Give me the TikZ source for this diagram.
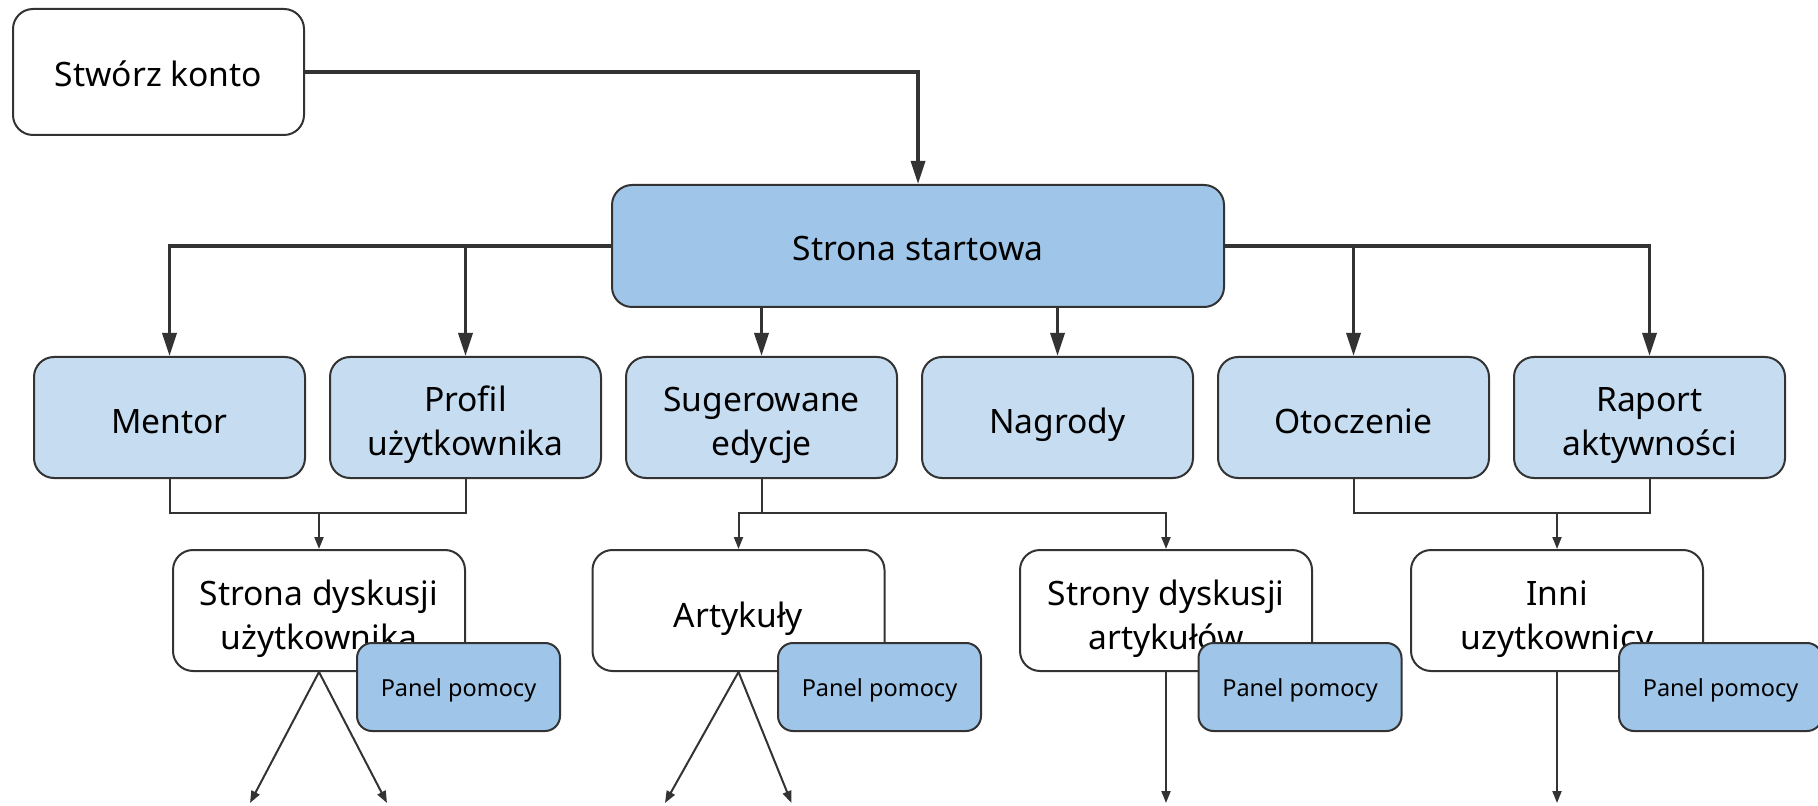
\documentclass[tikz,border=0pt]{standalone}
\usepackage{fontspec}
\setmainfont{Noto Sans}
\usepackage{xcolor}
\usepackage{tikz}
\usetikzlibrary{arrows.meta,positioning}

\definecolor{edgegray}{HTML}{333333}
\definecolor{darkblue}{HTML}{9FC5E8}
\definecolor{lightblue}{HTML}{C6DCF1}

\begin{document}
\begin{tikzpicture}[x=0.5pt, y=-0.5pt, node distance=148pt, on grid,
    box/.style={draw=edgegray, line width=1pt, rounded corners=10pt, inner sep=0pt,
      align=center, font=\fontsize{16.8}{22}\selectfont, text height=20.5pt, text depth=4pt},
    twoline/.style={text height=42.5pt},
    menubox/.style={box, fill=lightblue, minimum width=135.5pt, minimum height=60.5pt},
    pagebox/.style={box, fill=white, minimum width=146pt, minimum height=60.5pt},
    panelbox/.style={box, fill=darkblue, rounded corners=7.5pt, minimum width=101.5pt,
      minimum height=44pt, font=\fontsize{11.75}{14}\selectfont, text height=12.5pt, text depth=3pt},
    bigarrow/.style={draw=edgegray, line width=1.7pt, -{Triangle[length=11.5pt, width=7pt]}},
    smallline/.style={draw=edgegray, line width=1pt},
    smallarrow/.style={smallline, -{Triangle[length=6pt, width=4.5pt]}}]
  \useasboundingbox (0,0) rectangle (1818,806);

  \node[box, minimum width=145.5pt, minimum height=63pt, text height=19pt] (konto) at (158.5,72) {Stwórz konto};
  \node[box, fill=darkblue, minimum width=306pt, minimum height=61pt, text height=19pt] (start) at (918,246) {Strona startowa};

  \node[menubox] (mentor) at (169.5,417.5) {Mentor};
  \node[menubox, twoline] (profil) [right=of mentor] {Profil\\użytkownika};
  \node[menubox, twoline] (sug)    [right=of profil] {Sugerowane\\edycje};
  \node[menubox] (nagr)   [right=of sug]    {Nagrody};
  \node[menubox] (otocz)  [right=of nagr]   {Otoczenie};
  \node[menubox, twoline] (raport) [right=of otocz]  {Raport\\aktywności};

  \node[pagebox, twoline] (dysk_u) at (319,610.5)    {Strona dyskusji\\użytkownika};
  \node[pagebox] (art)    at (738.5,610.5)  {Artykuły};
  \node[pagebox, twoline] (dysk_a) at (1166,610.5)   {Strony dyskusji\\artykułów};
  \node[pagebox, twoline] (inni)   at (1557,610.5)   {Inni\\uzytkownicy};

  % thick connectors from the start page
  \draw[bigarrow] (konto.east) -| (start.north);
  \draw[bigarrow] (start.west) -| (mentor.north);
  \draw[bigarrow] (profil.north |- start.west) -- (profil.north);
  \draw[bigarrow] (start.south -| sug.north) -- (sug.north);
  \draw[bigarrow] (start.south -| nagr.north) -- (nagr.north);
  \draw[bigarrow] (start.east) -| (raport.north);
  \draw[bigarrow] (otocz.north |- start.east) -- (otocz.north);

  % thin brackets
  \coordinate (j_1) at (319,513);
  \coordinate (j_2) at (761.5,513);
  \coordinate (j_3) at (1557,513);
  \draw[smallline] (mentor.south) |- (j_1) -| (profil.south);
  \draw[smallarrow] (j_1) -- (dysk_u.north);
  \draw[smallline] (sug.south) -- (j_2);
  \draw[smallarrow] (j_2) -| (art.north);
  \draw[smallarrow] (j_2) -| (dysk_a.north);
  \draw[smallline] (otocz.south) |- (j_3) -| (raport.south);
  \draw[smallarrow] (j_3) -- (inni.north);

  % loose ends
  \coordinate (e_1) at (250,803);
  \coordinate (e_2) at (387,803);
  \coordinate (e_3) at (665,803);
  \coordinate (e_4) at (791.5,803);
  \coordinate (e_5) at (1166,803);
  \coordinate (e_6) at (1557,803);
  \draw[smallarrow] (dysk_u.south) -- (e_1);
  \draw[smallarrow] (dysk_u.south) -- (e_2);
  \draw[smallarrow] (art.south) -- (e_3);
  \draw[smallarrow] (art.south) -- (e_4);
  \draw[smallarrow] (dysk_a.south) -- (e_5);
  \draw[smallarrow] (inni.south) -- (e_6);

  \node[panelbox] (p_1) at (458.5,687)  {Panel pomocy};
  \node[panelbox] (p_2) at (879.5,687)  {Panel pomocy};
  \node[panelbox] (p_3) at (1300,687)   {Panel pomocy};
  \node[panelbox] (p_4) at (1720.5,687) {Panel pomocy};
\end{tikzpicture}
\end{document}
